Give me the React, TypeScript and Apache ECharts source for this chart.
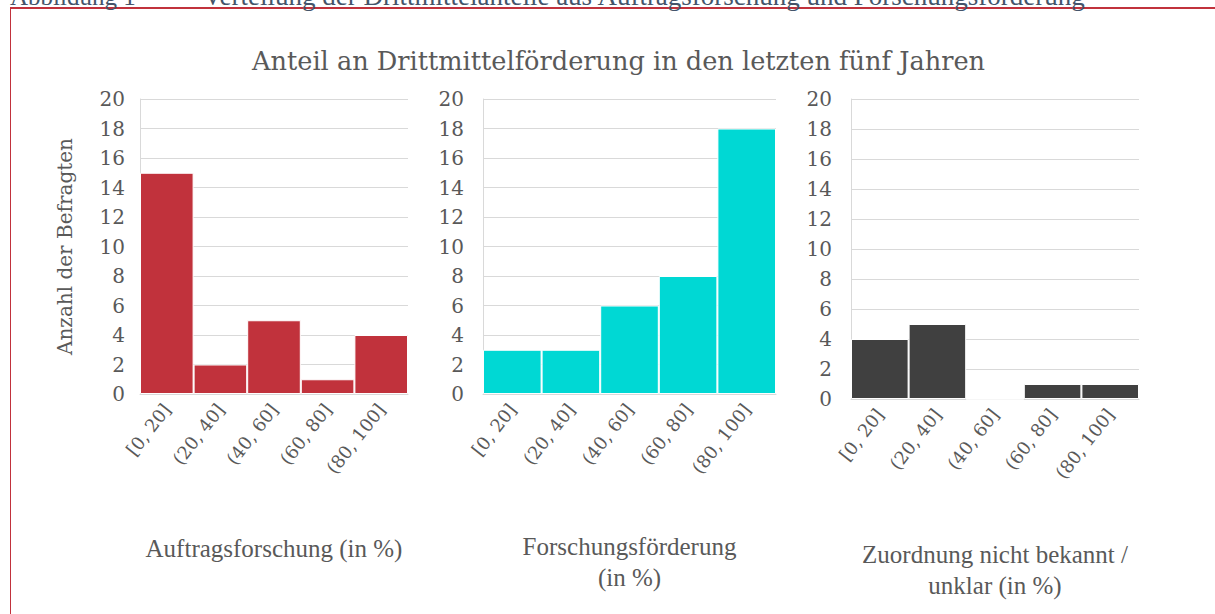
import React, { useEffect, useRef } from "react";
import * as echarts from "echarts";

const categories = ["[0, 20]", "(20, 40]", "(40, 60]", "(60, 80]", "(80, 100]"];
const auftragsforschung = [15, 2, 5, 1, 4];
const forschungsfoerderung = [3, 3, 6, 8, 18];
const zuordnungUnklar = [4, 5, 0, 1, 1];
const axisTitles = [
  "Auftragsforschung (in %)",
  "Forschungsförderung\n(in %)",
  "Zuordnung nicht bekannt /\nunklar (in %)",
];
const seriesColors = ["#C1323C", "#00D8D4", "#404040"];
const chartTitle = "Anteil an Drittmittelförderung in den letzten fünf Jahren";
const yAxisTitle = "Anzahl der Befragten";
const headerNumber = "Abbildung 1";
const headerCaption = "Verteilung der Drittmittelanteile aus Auftragsforschung und Forschungsförderung";

const grids = [
  { left: 140, top: 99, width: 268, height: 295 },
  { left: 483, top: 99, width: 293, height: 295 },
  { left: 851, top: 99, width: 288, height: 300 },
];

export default function App() {
  const ref = useRef<HTMLDivElement>(null);
  useEffect(() => {
    if (!ref.current) return;
    const chart = echarts.init(ref.current, undefined, { renderer: "svg" });
    const seriesData = [auftragsforschung, forschungsfoerderung, zuordnungUnklar];
    const gray = "#595959";
    chart.setOption({
      animation: false,
      backgroundColor: "#ffffff",
      title: {
        text: chartTitle,
        left: 247,
        top: 43,
        textStyle: {
          fontFamily: "DejaVu Serif",
          fontSize: 25.6,
          fontWeight: "normal",
          color: gray,
        },
      },
      grid: grids.map((g) => ({ ...g, containLabel: false })),
      xAxis: grids.map((_, i) => ({
        type: "category",
        gridIndex: i,
        data: categories,
        name: axisTitles[i],
        nameLocation: "middle",
        nameGap: i === 0 ? 139 : i === 1 ? 137 : 140,
        nameTextStyle: {
          fontFamily: "Liberation Serif",
          fontSize: 25,
          color: gray,
          lineHeight: 31,
        },
        axisLine: { show: true, lineStyle: { color: "#d9d9d9", width: 1 } },
        axisTick: { show: false },
        axisLabel: {
          rotate: 52,
          interval: 0,
          margin: 12,
          fontFamily: "DejaVu Serif",
          fontSize: 18,
          color: gray,
        },
      })),
      yAxis: grids.map((_, i) => ({
        type: "value",
        gridIndex: i,
        min: 0,
        max: 20,
        interval: 2,
        name: i === 0 ? yAxisTitle : "",
        nameLocation: "middle",
        nameGap: 65,
        nameRotate: 90,
        nameTextStyle: {
          fontFamily: "DejaVu Serif",
          fontSize: 20,
          color: gray,
        },
        axisLine: { show: true, lineStyle: { color: "#d9d9d9", width: 1 } },
        axisTick: { show: false },
        splitLine: { show: true, lineStyle: { color: "#d9d9d9", width: 1 } },
        axisLabel: {
          margin: i === 0 ? 15 : 19,
          fontFamily: "DejaVu Serif",
          fontSize: 20,
          color: gray,
        },
      })),
      series: seriesData.map((d, i) => ({
        type: "bar",
        xAxisIndex: i,
        yAxisIndex: i,
        data: d,
        barCategoryGap: 0,
        itemStyle: {
          color: seriesColors[i],
          borderColor: "#ffffff",
          borderWidth: 1,
        },
      })),
      graphic: [
        {
          type: "line",
          shape: { x1: 10, y1: 8, x2: 1215, y2: 8 },
          style: { stroke: "#C1323C", lineWidth: 2 },
        },
        {
          type: "line",
          shape: { x1: 10.5, y1: 8, x2: 10.5, y2: 614 },
          style: { stroke: "#C1323C", lineWidth: 1 },
        },
        {
          type: "text",
          x: 10,
          y: 9,
          style: {
            text: headerNumber,
            fontFamily: "Liberation Serif",
            fontSize: 25,
            fill: "#44546A",
            verticalAlign: "bottom",
          },
        },
        {
          type: "text",
          x: 203,
          y: 9,
          style: {
            text: headerCaption,
            fontFamily: "Liberation Serif",
            fontSize: 27,
            fill: "#44546A",
            verticalAlign: "bottom",
          },
        },
      ],
    });
    return () => chart.dispose();
  }, []);
  return (
    <div
      ref={ref}
      style={{ position: "absolute", left: 0, top: 0, width: 1215, height: 614 }}
    />
  );
}
